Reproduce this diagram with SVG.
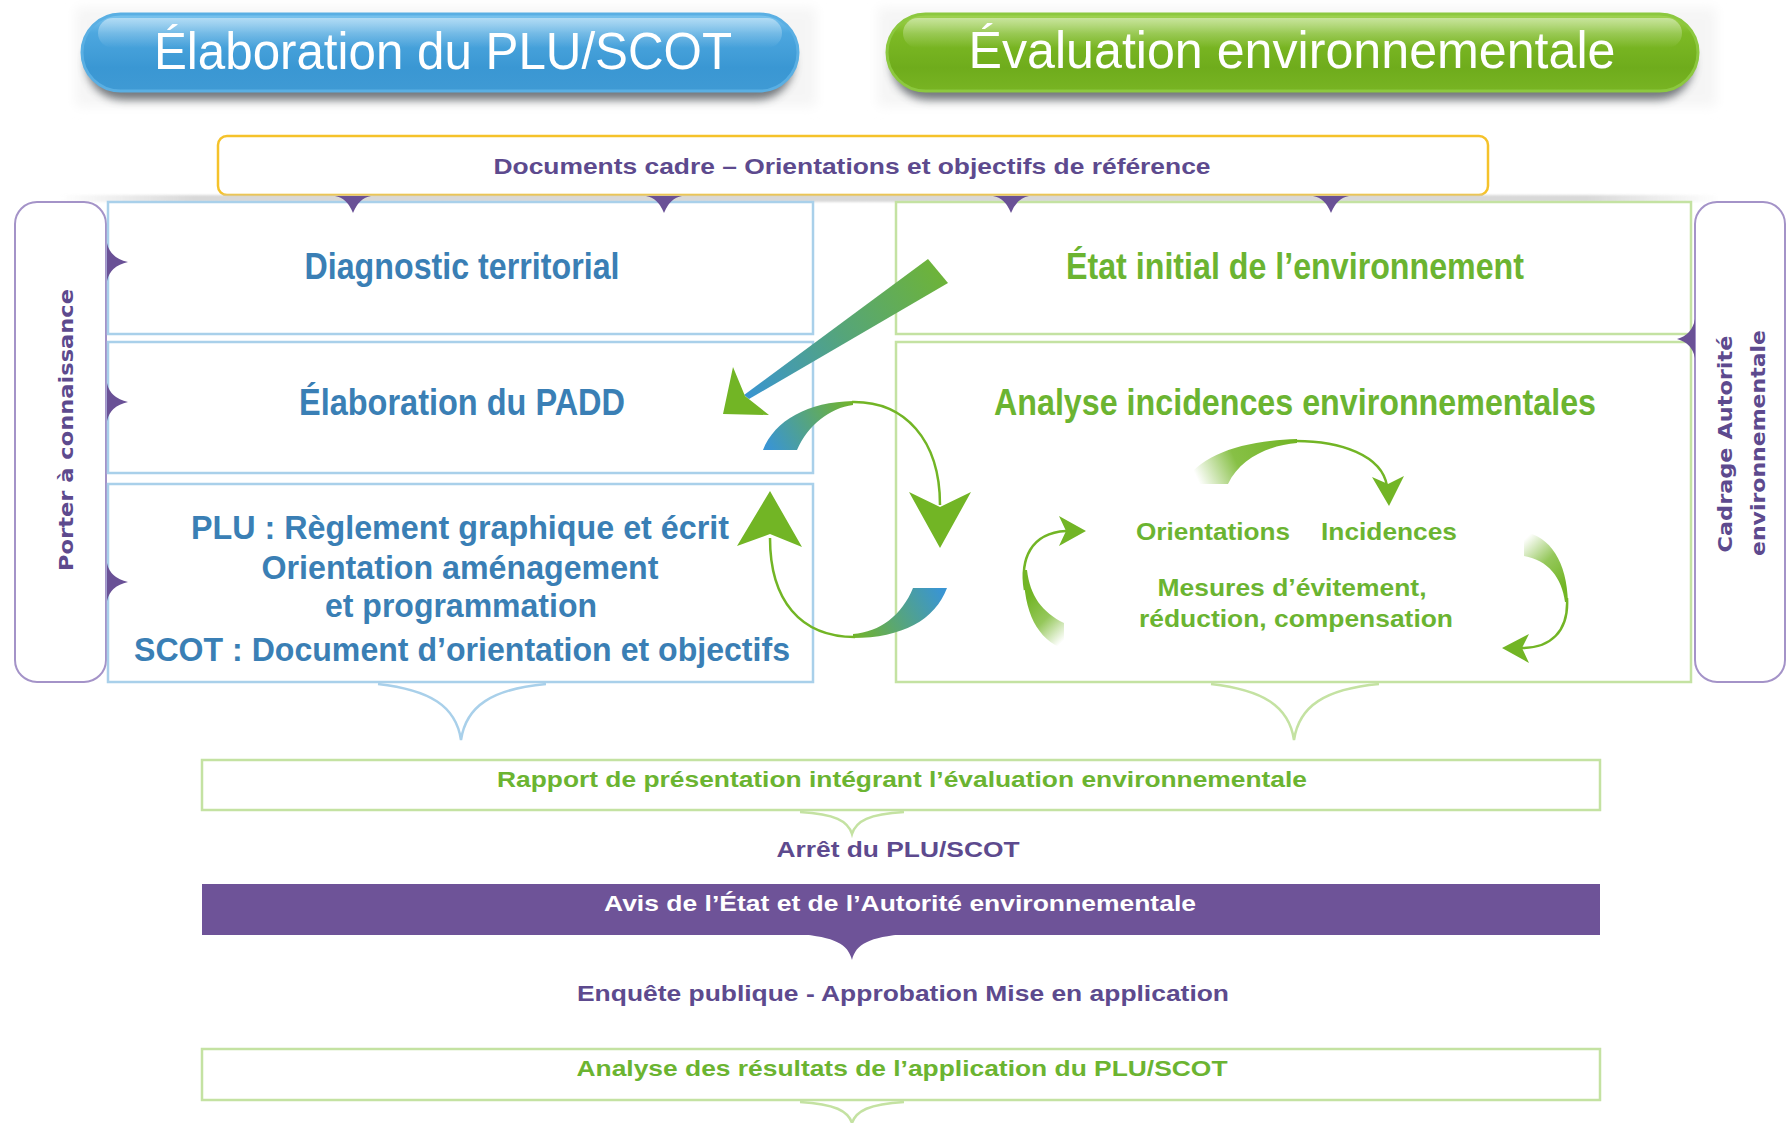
<svg xmlns="http://www.w3.org/2000/svg" width="1787" height="1123" viewBox="0 0 1787 1123">
<defs>
  <style>
    .t { font-family: "Liberation Sans Narrow", "Liberation Sans", Arial, sans-serif; font-weight: bold; text-anchor: middle; }
    .hd { font-family: "Liberation Sans Narrow", "Liberation Sans", Arial, sans-serif; font-weight: normal; font-size: 52px; fill: #ffffff; text-anchor: middle; }
    .vt { font-family: "DejaVu Sans", Verdana, sans-serif; font-weight: bold; font-size: 19px; fill: #5D4A8E; text-anchor: middle; }
    .blue { fill: #3A7FB5; }
    .green { fill: #6BB431; }
    .purple { fill: #5D4A8E; }
    .big { font-size: 37px; }
    .mid { font-size: 34px; }
    .sm { font-size: 22px; }
    .sm2 { font-size: 24px; }
    .bbox { fill: #ffffff; stroke: #A9D0EA; stroke-width: 2.5; }
    .gbox { fill: #ffffff; stroke: #C4E2A2; stroke-width: 2.5; }
    .pbox { fill: #ffffff; stroke: #A493C8; stroke-width: 2; }
    .tip { fill: #6A5196; }
    .bbrace { fill: none; stroke: #A9D0EA; stroke-width: 2.5; }
    .gbrace { fill: none; stroke: #C4E2A2; stroke-width: 2.5; }
    .gline { fill: none; stroke: #72B525; stroke-width: 2.5; }
    .ghead { fill: #72B525; }
  </style>
  <linearGradient id="blueBtn" x1="0" y1="0" x2="0" y2="1">
    <stop offset="0" stop-color="#7CC5EF"/>
    <stop offset="0.25" stop-color="#4DA7DF"/>
    <stop offset="0.7" stop-color="#3A97D3"/>
    <stop offset="1" stop-color="#3F9AD4"/>
  </linearGradient>
  <linearGradient id="greenBtn" x1="0" y1="0" x2="0" y2="1">
    <stop offset="0" stop-color="#A2D455"/>
    <stop offset="0.25" stop-color="#7DBA25"/>
    <stop offset="0.7" stop-color="#6FAC1C"/>
    <stop offset="1" stop-color="#78B423"/>
  </linearGradient>
  <linearGradient id="shine" x1="0" y1="0" x2="0" y2="1">
    <stop offset="0" stop-color="#ffffff" stop-opacity="0.45"/>
    <stop offset="1" stop-color="#ffffff" stop-opacity="0"/>
  </linearGradient>
  <linearGradient id="topShade" x1="0" y1="0" x2="1" y2="0">
    <stop offset="0" stop-color="#cfcfcf" stop-opacity="0"/>
    <stop offset="0.08" stop-color="#cfcfcf" stop-opacity="0.8"/>
    <stop offset="0.92" stop-color="#cfcfcf" stop-opacity="0.8"/>
    <stop offset="1" stop-color="#cfcfcf" stop-opacity="0"/>
  </linearGradient>
  <linearGradient id="diag" gradientUnits="userSpaceOnUse" x1="937" y1="271" x2="748" y2="397">
    <stop offset="0" stop-color="#6DB33A"/>
    <stop offset="0.5" stop-color="#55A57A"/>
    <stop offset="1" stop-color="#3A95D0"/>
  </linearGradient>
  <linearGradient id="rib1" gradientUnits="userSpaceOnUse" x1="770" y1="450" x2="853" y2="402">
    <stop offset="0" stop-color="#3A95D2"/>
    <stop offset="1" stop-color="#72B42A"/>
  </linearGradient>
  <linearGradient id="rib2" gradientUnits="userSpaceOnUse" x1="940" y1="590" x2="853" y2="637">
    <stop offset="0" stop-color="#3A95D2"/>
    <stop offset="1" stop-color="#72B42A"/>
  </linearGradient>
  <linearGradient id="fadeTop" gradientUnits="userSpaceOnUse" x1="1297" y1="440" x2="1200" y2="485">
    <stop offset="0" stop-color="#72B525"/>
    <stop offset="0.6" stop-color="#72B525" stop-opacity="0.85"/>
    <stop offset="1" stop-color="#72B525" stop-opacity="0"/>
  </linearGradient>
  <linearGradient id="fadeLeft" gradientUnits="userSpaceOnUse" x1="1025" y1="600" x2="1064" y2="640">
    <stop offset="0" stop-color="#72B525"/>
    <stop offset="0.5" stop-color="#72B525" stop-opacity="0.75"/>
    <stop offset="1" stop-color="#72B525" stop-opacity="0"/>
  </linearGradient>
  <linearGradient id="fadeRight" gradientUnits="userSpaceOnUse" x1="1566" y1="585" x2="1524" y2="540">
    <stop offset="0" stop-color="#72B525"/>
    <stop offset="0.5" stop-color="#72B525" stop-opacity="0.75"/>
    <stop offset="1" stop-color="#72B525" stop-opacity="0"/>
  </linearGradient>
  <filter id="blur4" x="-10%" y="-50%" width="120%" height="200%">
    <feGaussianBlur stdDeviation="4"/>
  </filter>
  <filter id="blur1" x="-10%" y="-50%" width="120%" height="200%">
    <feGaussianBlur stdDeviation="1.2"/>
  </filter>
  <filter id="blur6" x="-5%" y="-20%" width="110%" height="140%">
    <feGaussianBlur stdDeviation="6"/>
  </filter>
</defs>

<rect x="0" y="0" width="1787" height="1123" fill="#ffffff"/>

<!-- header -->
<g id="header-plu">
  <rect x="76" y="8" width="740" height="98" fill="#F5F5F5" filter="url(#blur6)"/>
  <rect x="86" y="26" width="708" height="74" rx="37" fill="#4a4f55" opacity="0.75" filter="url(#blur4)"/>
  <rect x="82" y="14" width="716" height="77" rx="38.5" fill="url(#blueBtn)" stroke="#5AAFE3" stroke-width="3"/>
  <rect x="98" y="18" width="684" height="30" rx="15" fill="url(#shine)"/>
  <text class="hd" x="443" y="69" textLength="578" lengthAdjust="spacingAndGlyphs">Élaboration du PLU/SCOT</text>
</g>
<g id="header-eval">
  <rect x="878" y="8" width="838" height="98" fill="#F5F5F5" filter="url(#blur6)"/>
  <rect x="891" y="26" width="803" height="74" rx="37" fill="#4a4f55" opacity="0.75" filter="url(#blur4)"/>
  <rect x="887" y="14" width="811" height="77" rx="38.5" fill="url(#greenBtn)" stroke="#8CC83F" stroke-width="3"/>
  <rect x="903" y="18" width="779" height="30" rx="15" fill="url(#shine)"/>
  <text class="hd" x="1292" y="68" textLength="647" lengthAdjust="spacingAndGlyphs">Évaluation environnementale</text>
</g>

<!-- documents cadre -->
<g id="documents-cadre">
  <rect x="218" y="136" width="1270" height="59" rx="9" fill="#ffffff" stroke="#F5C22A" stroke-width="2.5"/>
  <text class="t purple sm" x="852" y="174" textLength="717" lengthAdjust="spacingAndGlyphs">Documents cadre – Orientations et objectifs de référence</text>
</g>

<!-- shade under top -->
<rect x="60" y="195" width="1660" height="7" fill="url(#topShade)" filter="url(#blur1)"/>

<!-- side columns -->
<g id="porter-a-connaissance">
  <rect x="15" y="202" width="91" height="480" rx="22" class="pbox"/>
  <text class="vt" transform="translate(73,430) rotate(-90)" x="0" y="0" textLength="282" lengthAdjust="spacingAndGlyphs">Porter à connaissance</text>
</g>
<g id="cadrage-autorite">
  <rect x="1695" y="202" width="90" height="480" rx="22" class="pbox"/>
  <text class="vt" transform="translate(1732,444) rotate(-90)" x="0" y="0" textLength="217" lengthAdjust="spacingAndGlyphs">Cadrage Autorité</text>
  <text class="vt" transform="translate(1765,443) rotate(-90)" x="0" y="0" textLength="226" lengthAdjust="spacingAndGlyphs">environnementale</text>
</g>

<!-- left boxes -->
<g id="diagnostic-territorial">
  <rect x="108" y="202" width="705" height="132" class="bbox"/>
  <text class="t blue big" x="462" y="279" textLength="315" lengthAdjust="spacingAndGlyphs">Diagnostic territorial</text>
</g>
<g id="elaboration-padd">
  <rect x="108" y="342" width="705" height="131" class="bbox"/>
  <text class="t blue big" x="462" y="415" textLength="326" lengthAdjust="spacingAndGlyphs">Élaboration du PADD</text>
</g>
<g id="reglement">
  <rect x="108" y="484" width="705" height="198" class="bbox"/>
  <text class="t blue mid" x="460" y="539" textLength="538" lengthAdjust="spacingAndGlyphs">PLU : Règlement graphique et écrit</text>
  <text class="t blue mid" x="460" y="579" textLength="397" lengthAdjust="spacingAndGlyphs">Orientation aménagement</text>
  <text class="t blue mid" x="461" y="617" textLength="272" lengthAdjust="spacingAndGlyphs">et programmation</text>
  <text class="t blue mid" x="462" y="661" textLength="656" lengthAdjust="spacingAndGlyphs">SCOT : Document d’orientation et objectifs</text>
</g>

<!-- right boxes -->
<g id="etat-initial">
  <rect x="896" y="202" width="795" height="132" class="gbox"/>
  <text class="t green big" x="1295" y="279" textLength="458" lengthAdjust="spacingAndGlyphs">État initial de l’environnement</text>
</g>
<g id="analyse-incidences">
  <rect x="896" y="342" width="795" height="340" class="gbox"/>
  <text class="t green big" x="1295" y="415" textLength="602" lengthAdjust="spacingAndGlyphs">Analyse incidences environnementales</text>
  <text class="t green sm2" x="1213" y="540" textLength="154" lengthAdjust="spacingAndGlyphs">Orientations</text>
  <text class="t green sm2" x="1389" y="540" textLength="136" lengthAdjust="spacingAndGlyphs">Incidences</text>
  <text class="t green sm2" x="1292" y="596" textLength="269" lengthAdjust="spacingAndGlyphs">Mesures d’évitement,</text>
  <text class="t green sm2" x="1296" y="627" textLength="314" lengthAdjust="spacingAndGlyphs">réduction, compensation</text>
</g>

<!-- bottom sequence -->
<g id="rapport">
  <rect x="202" y="760" width="1398" height="50" fill="#ffffff" stroke="#C4E2A2" stroke-width="2.5"/>
  <text class="t green sm" x="902" y="787" textLength="810" lengthAdjust="spacingAndGlyphs">Rapport de présentation intégrant l’évaluation environnementale</text>
</g>
<g id="arret">
  <text class="t purple sm" x="898" y="857" textLength="243" lengthAdjust="spacingAndGlyphs">Arrêt du PLU/SCOT</text>
</g>
<g id="avis">
  <rect x="202" y="884" width="1398" height="51" fill="#6E5398"/>
  <text class="t sm" fill="#ffffff" x="900" y="911" textLength="592" lengthAdjust="spacingAndGlyphs">Avis de l’État et de l’Autorité environnementale</text>
</g>
<g id="enquete">
  <text class="t purple sm" x="903" y="1001" textLength="652" lengthAdjust="spacingAndGlyphs">Enquête publique - Approbation Mise en application</text>
</g>
<g id="analyse-resultats">
  <rect x="202" y="1049" width="1398" height="51" fill="#ffffff" stroke="#C4E2A2" stroke-width="2.5"/>
  <text class="t green sm" x="902" y="1076" textLength="651" lengthAdjust="spacingAndGlyphs">Analyse des résultats de l’application du PLU/SCOT</text>
</g>

<!-- connectors -->
<g id="connectors">
  <!-- tips from documents cadre -->
  <path class="tip" d="M335,196 Q347,198 353,213 Q359,198 371,196 Z"/>
  <path class="tip" d="M646,196 Q658,198 664,213 Q670,198 682,196 Z"/>
  <path class="tip" d="M993,196 Q1005,198 1011,213 Q1017,198 1029,196 Z"/>
  <path class="tip" d="M1313,196 Q1325,198 1331,213 Q1337,198 1349,196 Z"/>
  <!-- tips from porter à connaissance -->
  <path class="tip" d="M107,243 Q110,258 128,262 Q110,266 107,281 Z"/>
  <path class="tip" d="M107,383 Q110,398 128,402 Q110,406 107,421 Z"/>
  <path class="tip" d="M107,563 Q110,578 128,582 Q110,586 107,601 Z"/>
  <!-- tip from cadrage -->
  <path class="tip" d="M1695,319 Q1692,335 1677,339 Q1692,343 1695,358 Z"/>

  <!-- braces -->
  <path class="bbrace" d="M378,684 C430,690 456,706 461,740 C466,706 492,689 546,684"/>
  <path class="gbrace" d="M1211,684 C1263,690 1289,706 1294,740 C1299,706 1325,689 1379,684"/>
  <path class="gbrace" d="M800,812 C835,814 848,821 852,834 C856,821 869,814 904,812"/>
  <path fill="#6E5398" d="M798,934 C835,937 848,944 852,960 C856,944 869,937 906,934 Z"/>
  <path class="gbrace" d="M800,1102 C835,1104 848,1111 852,1123 C856,1111 869,1104 904,1102"/>

  <!-- diagonal arrow from état initial to PADD -->
  <path fill="url(#diag)" d="M928,259 L948,283 L749,399 L744,395 Z"/>
  <path class="ghead" d="M723,414 L733,367 L745,396 L769,415 Z"/>

  <!-- top loop: PADD to analyse -->
  <path fill="url(#rib1)" d="M763,450 C775,420 808,402 853,401 L853,405 C830,408 808,425 797,450 Z"/>
  <path class="gline" d="M852,402 C905,401 940,440 940,505"/>
  <path class="ghead" d="M940,548 L909,492 L940,507 L971,492 Z"/>

  <!-- bottom loop: analyse to règlement -->
  <path fill="url(#rib2)" d="M947,588 C935,620 902,638 853,638 L853,634 C880,632 902,615 913,588 Z"/>
  <path class="gline" d="M855,637 C800,637 770,600 770,538"/>
  <path class="ghead" d="M770,491 L737,546 L770,534 L802,547 Z"/>

  <!-- inner cycle: orientations -> incidences -->
  <path fill="url(#fadeTop)" d="M1183,484 C1200,455 1240,441 1297,439 L1297,443 C1270,445 1240,458 1228,484 Z"/>
  <path class="gline" stroke-width="2" d="M1296,441 C1340,441 1382,455 1387,486"/>
  <path class="ghead" d="M1389,506 L1372,477 L1388,484 L1404,476 Z"/>

  <!-- incidences -> mesures (right) -->
  <path fill="url(#fadeRight)" d="M1524,532 C1550,536 1567,562 1568,602 L1565,602 C1562,578 1548,560 1524,556 Z"/>
  <path class="gline" stroke-width="2" d="M1567,598 C1569,632 1550,648 1522,648"/>
  <path class="ghead" d="M1502,648 L1529,634 L1522,648 L1529,663 Z"/>

  <!-- mesures -> orientations (left) -->
  <path fill="url(#fadeLeft)" d="M1024,570 C1023,612 1038,640 1064,649 L1064,623 C1042,612 1030,596 1027,570 Z"/>
  <path class="gline" stroke-width="2" d="M1025,590 C1020,560 1030,533 1066,531"/>
  <path class="ghead" d="M1086,531 L1059,516 L1066,531 L1059,546 Z"/>
</g>
</svg>
